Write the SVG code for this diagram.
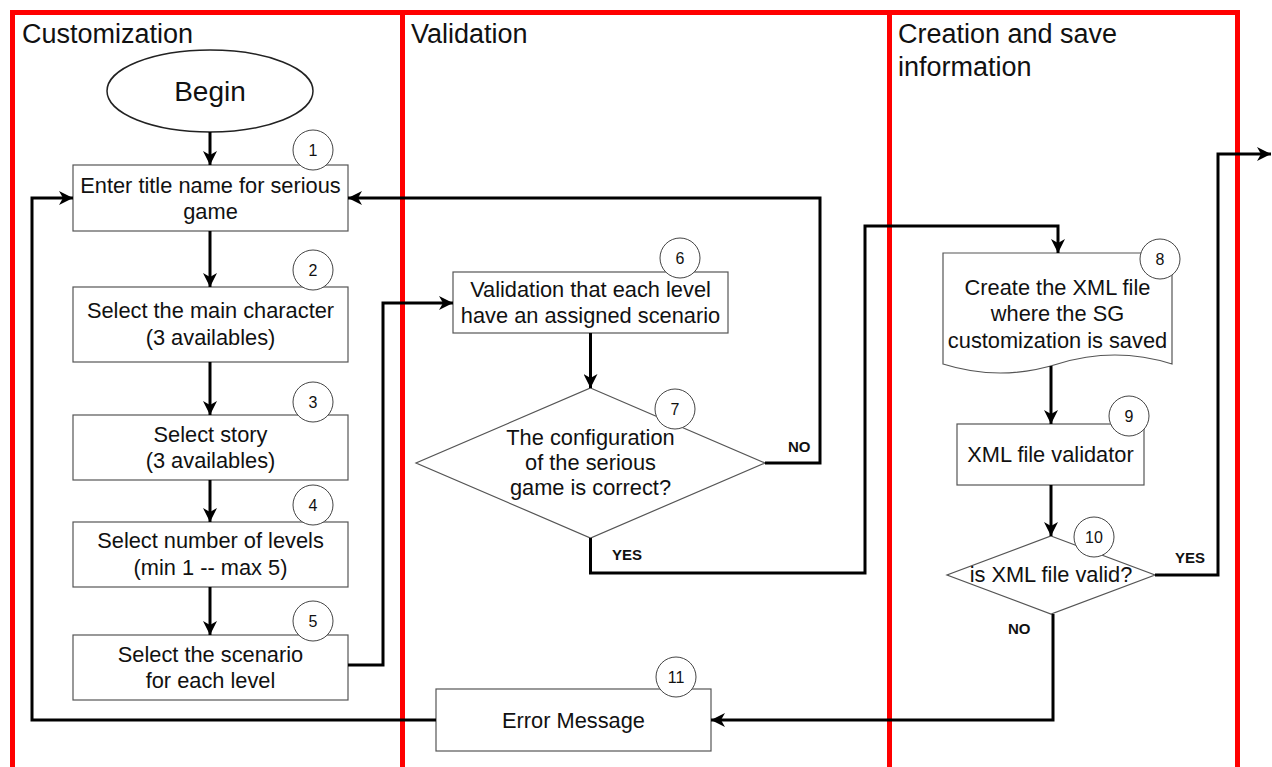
<svg xmlns="http://www.w3.org/2000/svg" width="1272" height="767" viewBox="0 0 1272 767">
<style>
text{font-family:"Liberation Sans",Arial,sans-serif;fill:#111}
.lane{fill:none;stroke:#ff0000;stroke-width:5}
.title{font-size:27px}
.box{fill:#fff;stroke:#555;stroke-width:1.2}
.t{font-size:21.8px;text-anchor:middle}
.num{fill:#fff;stroke:#444;stroke-width:1}
.n{font-size:16px;text-anchor:middle}
.edge{fill:none;stroke:#000;stroke-width:3}
.arr{marker-end:url(#ah)}
.lbl{font-size:15px;font-weight:bold}
</style>
<defs>
<marker id="ah" viewBox="0 0 14 14" markerWidth="14" markerHeight="14" refX="14" refY="7" orient="auto" markerUnits="userSpaceOnUse">
<path d="M0,0 L14,7 L0,14 L4,7 z" fill="#000"/>
</marker>
</defs>
<rect width="1272" height="767" fill="#fff"/>
<g id="lane-customization">
<rect class="lane" x="12.5" y="12.5" width="390" height="800"/>
<text class="title" x="22" y="43">Customization</text>
</g>
<g id="lane-validation">
<rect class="lane" x="402.5" y="12.5" width="487" height="800"/>
<text class="title" x="411" y="43">Validation</text>
</g>
<g id="lane-creation">
<rect class="lane" x="889.5" y="12.5" width="348" height="800"/>
<text class="title" x="898" y="43">Creation and save</text>
<text class="title" x="898" y="76">information</text>
</g>
<g id="begin">
<ellipse cx="210" cy="91" rx="103" ry="41" fill="#fff" stroke="#222" stroke-width="1.5"/>
<text x="210" y="101" style="font-size:28px;text-anchor:middle">Begin</text>
</g>
<g id="n1">
<rect class="box" x="73" y="165" width="275" height="66"/>
<text class="t" x="210.5" y="193">Enter title name for serious</text>
<text class="t" x="210.5" y="219">game</text>
<circle class="num" cx="313" cy="150" r="20"/>
<text class="n" x="313" y="156">1</text>
</g>
<g id="n2">
<rect class="box" x="73" y="287" width="275" height="75"/>
<text class="t" x="210.5" y="318">Select the main character</text>
<text class="t" x="210.5" y="345">(3 availables)</text>
<circle class="num" cx="313" cy="270" r="20"/>
<text class="n" x="313" y="276">2</text>
</g>
<g id="n3">
<rect class="box" x="73" y="415" width="275" height="65"/>
<text class="t" x="210.5" y="442">Select story</text>
<text class="t" x="210.5" y="468">(3 availables)</text>
<circle class="num" cx="313" cy="402" r="20"/>
<text class="n" x="313" y="408">3</text>
</g>
<g id="n4">
<rect class="box" x="73" y="522" width="275" height="65"/>
<text class="t" x="210.5" y="548">Select number of levels</text>
<text class="t" x="210.5" y="575">(min 1 -- max 5)</text>
<circle class="num" cx="313" cy="505" r="20"/>
<text class="n" x="313" y="511">4</text>
</g>
<g id="n5">
<rect class="box" x="73" y="635" width="275" height="65"/>
<text class="t" x="210.5" y="662">Select the scenario</text>
<text class="t" x="210.5" y="688">for each level</text>
<circle class="num" cx="313" cy="621" r="20"/>
<text class="n" x="313" y="627">5</text>
</g>
<g id="n6">
<rect class="box" x="453" y="272" width="275" height="61"/>
<text class="t" x="590.5" y="297">Validation that each level</text>
<text class="t" x="590.5" y="323">have an assigned scenario</text>
<circle class="num" cx="680" cy="258" r="20"/>
<text class="n" x="680" y="264">6</text>
</g>
<g id="n7">
<polygon class="box" points="590.5,388 765,463 590.5,538 416,463"/>
<text class="t" x="590.5" y="445">The configuration</text>
<text class="t" x="590.5" y="470">of the serious</text>
<text class="t" x="590.5" y="495">game is correct?</text>
<circle class="num" cx="675" cy="409" r="20"/>
<text class="n" x="675" y="415">7</text>
</g>
<g id="n8">
<path class="box" d="M943,253 H1172 V364 Q1115,346 1057.5,364 Q1000,382 943,364 Z"/>
<text class="t" x="1057.5" y="295">Create the XML file</text>
<text class="t" x="1057.5" y="321">where the SG</text>
<text class="t" x="1057.5" y="348">customization is saved</text>
<circle class="num" cx="1160" cy="259" r="20"/>
<text class="n" x="1160" y="265">8</text>
</g>
<g id="n9">
<rect class="box" x="957" y="424" width="187" height="61"/>
<text class="t" x="1050.5" y="462">XML file validator</text>
<circle class="num" cx="1129" cy="416" r="20"/>
<text class="n" x="1129" y="422">9</text>
</g>
<g id="n10">
<polygon class="box" points="1051,536 1155,575 1051,614 947,575"/>
<text class="t" x="1051" y="582">is XML file valid?</text>
<circle class="num" cx="1094" cy="537" r="20"/>
<text class="n" x="1094" y="543">10</text>
</g>
<g id="n11">
<rect class="box" x="436" y="689" width="275" height="62"/>
<text class="t" x="573.5" y="728">Error Message</text>
<circle class="num" cx="676" cy="677" r="20"/>
<text class="n" x="676" y="683">11</text>
</g>
<g id="connectors">
<path class="edge arr" d="M210,132 V165"/>
<path class="edge arr" d="M210,231 V287"/>
<path class="edge arr" d="M210,362 V415"/>
<path class="edge arr" d="M210,480 V522"/>
<path class="edge arr" d="M210,587 V635"/>
<path class="edge arr" d="M348,665 H383 V303 H453"/>
<path class="edge arr" d="M590.5,333 V388"/>
<path class="edge arr" d="M765,463 H820 V198 H348"/>
<path class="edge arr" d="M590.5,538 V573 H865 V226 H1058 V253"/>
<path class="edge arr" d="M1051,366 V424"/>
<path class="edge arr" d="M1051,485 V536"/>
<path class="edge arr" d="M1155,575 H1218 V154 H1271"/>
<path class="edge arr" d="M1053,614 V720 H711"/>
<path class="edge arr" d="M436,720 H32 V198 H73"/>
<text class="lbl" x="788" y="452">NO</text>
<text class="lbl" x="612" y="560">YES</text>
<text class="lbl" x="1175" y="563">YES</text>
<text class="lbl" x="1008" y="634">NO</text>
</g>
</svg>
